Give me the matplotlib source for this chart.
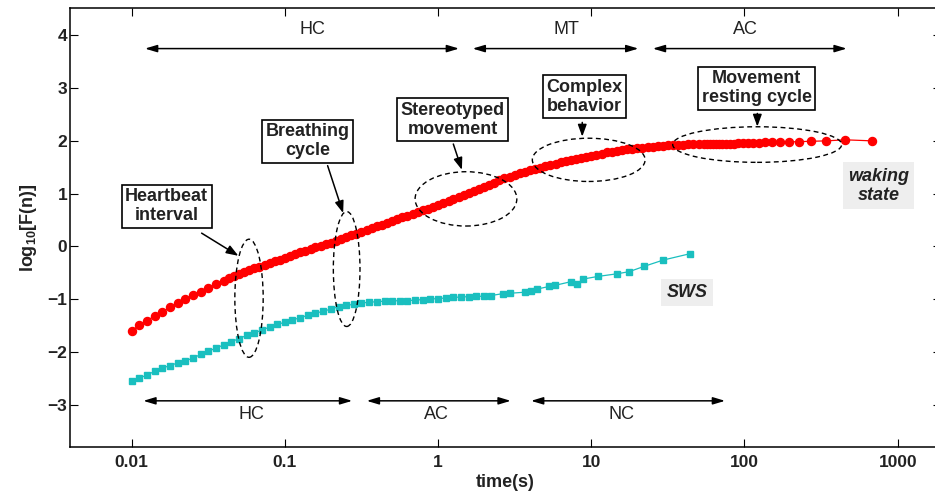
import matplotlib
matplotlib.use('Agg')
import matplotlib.pyplot as plt
import numpy as np
from matplotlib.patches import Ellipse
from matplotlib.transforms import Affine2D

plt.rcParams['font.family'] = ['Liberation Sans', 'DejaVu Sans']
plt.rcParams['mathtext.fontset'] = 'custom'
plt.rcParams['mathtext.rm'] = 'Liberation Sans'
plt.rcParams['mathtext.bf'] = 'Liberation Sans:bold'

# waking state (red circles)
wake_t = [0.0100, 0.0112, 0.0126, 0.0141, 0.0158, 0.0178, 0.0200, 0.0224, 0.0251, 0.0282,
          0.0316, 0.0355, 0.0398,
          0.0430, 0.0464, 0.0501, 0.0541, 0.0584, 0.0631, 0.0681, 0.0736, 0.0794, 0.0858, 0.0926,
          0.100, 0.108, 0.117, 0.126, 0.136, 0.147, 0.158, 0.171, 0.185, 0.200,
          0.215, 0.233, 0.251, 0.271, 0.293, 0.316, 0.341, 0.369, 0.398, 0.430,
          0.464, 0.501, 0.541, 0.584, 0.631, 0.681, 0.736, 0.794, 0.858, 0.926,
          1.00, 1.08, 1.17, 1.26, 1.36, 1.47, 1.58, 1.71, 1.85, 2.00,
          2.15, 2.33, 2.51, 2.71, 2.93, 3.16, 3.41, 3.69, 3.98, 4.30,
          4.64, 5.01, 5.41, 5.84, 6.31, 6.81, 7.36, 7.94, 8.58, 9.26,
          10.0, 10.8, 11.7, 12.6, 13.6, 14.7, 15.8, 17.1, 18.5, 20.0,
          21.5, 23.3, 25.1, 27.1, 29.3, 31.6, 34.1, 36.9, 39.8, 43.0, 46.4, 50.1,
          54.5, 56.8, 59.2, 61.9, 64.9, 68.1, 71.7, 75.7, 80.1, 85.1, 90.8, 97.3,
          104.8, 113.5, 123.8, 136.2, 151.3, 170.3, 194.6, 227, 272, 340.5, 454, 681]
wake_y = [-1.60, -1.50, -1.41, -1.32, -1.24, -1.16, -1.08, -1.005, -0.93, -0.86,
          -0.79, -0.72, -0.65,
          -0.61, -0.57, -0.53, -0.493, -0.457, -0.42, -0.387, -0.353, -0.32, -0.287, -0.253,
          -0.22, -0.183, -0.147, -0.11, -0.08, -0.05, -0.02, 0.01, 0.04, 0.07,
          0.103, 0.137, 0.17, 0.207, 0.243, 0.28, 0.313, 0.347, 0.38, 0.413,
          0.447, 0.48, 0.513, 0.547, 0.58, 0.613, 0.647, 0.68, 0.713, 0.747,
          0.78, 0.817, 0.853, 0.89, 0.93, 0.97, 1.01, 1.05, 1.09, 1.13,
          1.17, 1.21, 1.25, 1.287, 1.323, 1.36, 1.387, 1.413, 1.44, 1.467,
          1.493, 1.52, 1.543, 1.567, 1.59, 1.613, 1.637, 1.66, 1.68, 1.70,
          1.72, 1.74, 1.76, 1.78, 1.797, 1.813, 1.83, 1.842, 1.853, 1.865,
          1.873, 1.882, 1.89, 1.898, 1.907, 1.915, 1.92, 1.925, 1.93, 1.933, 1.937, 1.94,
          1.94, 1.94, 1.94, 1.945, 1.94, 1.945, 1.95, 1.945, 1.95, 1.95, 1.955, 1.955,
          1.96, 1.96, 1.965, 1.97, 1.97, 1.975, 1.98, 1.985, 1.99, 2.0, 2.02, 2.0]

# slow wave sleep (cyan squares)
sws_t = [0.0100, 0.0112, 0.0126, 0.0141, 0.0158, 0.0178, 0.0200, 0.0224, 0.0251, 0.0282,
         0.0316, 0.0355, 0.0398, 0.0447, 0.0501, 0.0562, 0.0631, 0.0708, 0.0794, 0.0891,
         0.100, 0.112, 0.126, 0.141, 0.158, 0.178, 0.200, 0.224, 0.251, 0.282,
         0.316, 0.355, 0.398, 0.447, 0.501, 0.562, 0.631, 0.708, 0.794, 0.891,
         1.00, 1.12, 1.26, 1.41, 1.58, 1.78, 2.00, 2.20,
         2.67, 2.94, 3.69, 4.02, 4.44, 5.32, 5.80, 7.37, 8.10, 8.87,
         11.1, 14.8, 17.7, 22.1, 29.5, 44.1]
sws_y = [-2.56, -2.50, -2.44, -2.37, -2.31, -2.26, -2.21, -2.17, -2.12, -2.05,
         -1.99, -1.93, -1.87, -1.81, -1.75, -1.69, -1.64, -1.59, -1.53, -1.48,
         -1.44, -1.40, -1.35, -1.31, -1.27, -1.23, -1.19, -1.145, -1.12, -1.10,
         -1.075, -1.06, -1.05, -1.04, -1.035, -1.03, -1.03, -1.02, -1.01, -1.00,
         -0.99, -0.98, -0.97, -0.96, -0.955, -0.95, -0.945, -0.935,
         -0.895, -0.89, -0.87, -0.845, -0.81, -0.76, -0.74, -0.67, -0.71, -0.62,
         -0.57, -0.52, -0.48, -0.38, -0.26, -0.14]

xticks = [0.01, 0.1, 1, 10, 100, 1000]
xticklabels = ['0.01', '0.1', '1', '10', '100', '1000']
yticks = [-3, -2, -1, 0, 1, 2, 3, 4]

# scale ranges: (label, t_start, t_end, t_label)
top_ranges = [('HC', 0.0122, 1.37, 0.152), ('MT', 1.68, 20.3, 6.9), ('AC', 25.2, 465, 102)]
bottom_ranges = [('HC', 0.0119, 0.275, 0.0601), ('AC', 0.342, 2.98, 0.98), ('NC', 4.04, 74.7, 15.8)]

# callouts: (text, box t, box y, arrow start t, y, arrow end t, y)
callouts = [('Heartbeat\ninterval', 0.0169, 0.76, 0.0286, 0.25, 0.0497, -0.18),
            ('Breathing\ncycle', 0.141, 1.99, 0.190, 1.53, 0.240, 0.63),
            ('Stereotyped\nmovement', 1.24, 2.40, 1.257, 1.94, 1.43, 1.45),
            ('Complex\nbehavior', 9.04, 2.84, 8.73, 2.35, 8.73, 2.08),
            ('Movement\nresting cycle', 120, 3.0, 121.3, 2.52, 121.3, 2.27)]

# dashed ellipses: (center t, center y, width in decades, height)
ellipses = [(0.0583, -0.985, 0.185, 2.24),
            (0.253, -0.43, 0.174, 2.18),
            (1.52, 0.90, 0.664, 1.03),
            (9.62, 1.64, 0.736, 0.82),
            (121, 1.93, 1.103, 0.675)]

txt = '#222222'
fig = plt.figure(figsize=(9.35, 4.93), dpi=100)
ax = fig.add_axes([0.0749, 0.0939, 0.9315, 0.8899])

ax.plot(wake_t, wake_y, '-o', color='#ff0000', lw=0.9, ms=5.8, mec='#ff0000', zorder=3)
ax.plot(sws_t, sws_y, '-s', color='#1abfbf', lw=0.9, ms=4.8, mec='#1abfbf', zorder=3)

ax.set_xscale('log')
ax.set_xlim(0.003957, 1917)
ax.set_ylim(-3.8, 4.52)
ax.set_xticks(xticks)
ax.set_xticklabels(xticklabels)
ax.xaxis.set_minor_locator(matplotlib.ticker.NullLocator())
ax.set_yticks(yticks)
ax.tick_params(direction='in', length=5.5, width=0.8, top=True, right=True,
               labelsize=12.5, labelcolor=txt)
ax.tick_params(axis='x', pad=6)
ax.tick_params(axis='y', pad=2)
for lab in ax.get_xticklabels() + ax.get_yticklabels():
    lab.set_fontweight('bold')
for s in ax.spines.values():
    s.set_linewidth(1.1)

ax.set_xlabel('time(s)', fontsize=13, fontweight='bold', color=txt, labelpad=3)
ax.set_ylabel(r'$\mathbf{log_{10}[F(n)]}$', fontsize=13, color=txt, labelpad=6)

dec = Affine2D().translate(-np.log10(0.003957), 3.8).scale(
    1 / (np.log10(1917) - np.log10(0.003957)), 1 / 8.32) + ax.transAxes
for tc, yc, w, h in ellipses:
    ax.add_patch(Ellipse((np.log10(tc), yc), w, h, transform=dec, fill=False,
                         ec='k', lw=1.0, ls=(0, (3.5, 2.5)), zorder=4))

arrow2 = dict(arrowstyle='<|-|>,head_length=0.6,head_width=0.18', color='k', lw=1.1,
              shrinkA=0, shrinkB=0, mutation_scale=12)
for lab, t0, t1, tl in top_ranges:
    ax.annotate('', xy=(t1, 3.75), xytext=(t0, 3.75), arrowprops=arrow2)
    ax.text(tl, 4.11, lab, ha='center', va='center', fontsize=13, color=txt)
for lab, t0, t1, tl in bottom_ranges:
    ax.annotate('', xy=(t1, -2.93), xytext=(t0, -2.93), arrowprops=arrow2)
    ax.text(tl, -3.18, lab, ha='center', va='center', fontsize=13, color=txt)

arrow1 = dict(arrowstyle='-|>,head_length=0.6,head_width=0.22', color='k', lw=1.1,
              shrinkA=0, shrinkB=0, mutation_scale=12)
for lab, bt, by, at, ay, et, ey in callouts:
    ax.annotate('', xy=(et, ey), xytext=(at, ay), arrowprops=arrow1, zorder=5)
    ax.text(bt, by, lab, ha='center', va='center', fontsize=13, fontweight='bold',
            color=txt, linespacing=1.15, zorder=6,
            bbox=dict(boxstyle='square,pad=0.2', fc='white', ec='k', lw=1.2))

ax.text(750, 1.15, 'waking\nstate', ha='center', va='center', fontsize=13,
        fontweight='bold', style='italic', color=txt, linespacing=1.15,
        bbox=dict(boxstyle='square,pad=0.3', fc='#eeeeee', ec='none'))
ax.text(42.4, -0.877, 'SWS', ha='center', va='center', fontsize=13,
        fontweight='bold', style='italic', color=txt,
        bbox=dict(boxstyle='square,pad=0.3', fc='#eeeeee', ec='none'))

fig.savefig('out.png', dpi=100)
